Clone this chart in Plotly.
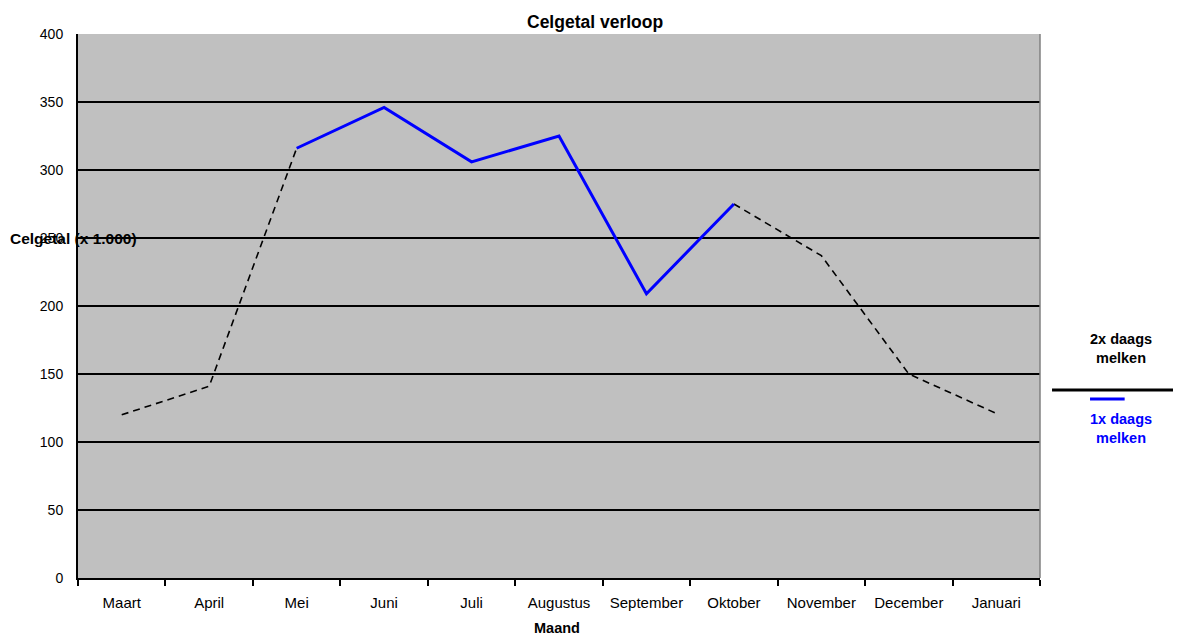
import plotly.graph_objects as go

months = ["Maart", "April", "Mei", "Juni", "Juli", "Augustus", "September",
          "Oktober", "November", "December", "Januari"]
twice_daily = [120, 141, 316, None, None, None, None, 275, 237, 150, 121]
once_daily = [None, None, 316, 346, 306, 325, 209, 275, None, None, None]
y_ticks = [0, 50, 100, 150, 200, 250, 300, 350, 400]

FONT = "Liberation Sans, Arial, sans-serif"

fig = go.Figure()
fig.add_trace(go.Scatter(
    x=months, y=twice_daily, mode="lines", connectgaps=False,
    line=dict(color="black", width=1.6, dash="7px,5px"),
    name="2x daags melken", showlegend=False))
fig.add_trace(go.Scatter(
    x=months, y=once_daily, mode="lines", connectgaps=False,
    line=dict(color="#0000ff", width=3),
    name="1x daags melken", showlegend=False))

fig.update_layout(
    width=1173, height=627,
    margin=dict(l=70, r=141, t=26, b=57),
    paper_bgcolor="white", plot_bgcolor="#c0c0c0",
    font=dict(family=FONT, size=14, color="black"),
    showlegend=False,
    xaxis=dict(
        type="category", categoryorder="array", categoryarray=months,
        range=[-0.5, 10.5], tickson="boundaries",
        ticks="outside", ticklen=6, tickwidth=1.5, tickcolor="black",
        showline=True, linecolor="black", linewidth=2,
        showgrid=False, zeroline=False,
        tickfont=dict(size=15), ticklabelstandoff=10,
    ),
    yaxis=dict(
        range=[0, 400], tickvals=y_ticks,
        showgrid=True, gridcolor="black", gridwidth=1.6,
        showline=True, linecolor="black", linewidth=2,
        zeroline=False, ticks="", tickfont=dict(size=14),
        ticklabelstandoff=10,
    ),
    shapes=[
        dict(type="line", xref="paper", yref="paper", x0=1, x1=1, y0=0, y1=1,
             line=dict(color="#808080", width=1.5)),
        dict(type="line", xref="paper", yref="paper", x0=1.0125, x1=1.147,
             y0=0.3456, y1=0.3456, line=dict(color="black", width=3)),
        dict(type="line", xref="paper", yref="paper", x0=1.052, x1=1.088,
             y0=0.329, y1=0.329, line=dict(color="#0000ff", width=3)),
    ],
    annotations=[
        dict(text="<b>Celgetal verloop</b>", xref="paper", yref="paper",
             x=0.537, y=1.0, yanchor="bottom", showarrow=False,
             font=dict(size=17.5)),
        dict(text="<b>Maand</b>", xref="paper", yref="paper",
             x=0.498, y=-0.092, yanchor="middle", showarrow=False,
             font=dict(size=14.5)),
        dict(text="<b>Celgetal (x 1.000)</b>", xref="paper", yref="y",
             x=-0.0728, y=250, xanchor="left", yanchor="middle",
             showarrow=False, font=dict(size=15.5)),
        dict(text="<b>2x daags<br>melken</b>", xref="paper", yref="paper",
             x=1.084, y=0.421, xanchor="center", yanchor="middle",
             showarrow=False, font=dict(size=14.5, color="black")),
        dict(text="<b>1x daags<br>melken</b>", xref="paper", yref="paper",
             x=1.084, y=0.275, xanchor="center", yanchor="middle",
             showarrow=False, font=dict(size=14.5, color="#0000ff")),
    ],
)

fig.write_html("out.html")
